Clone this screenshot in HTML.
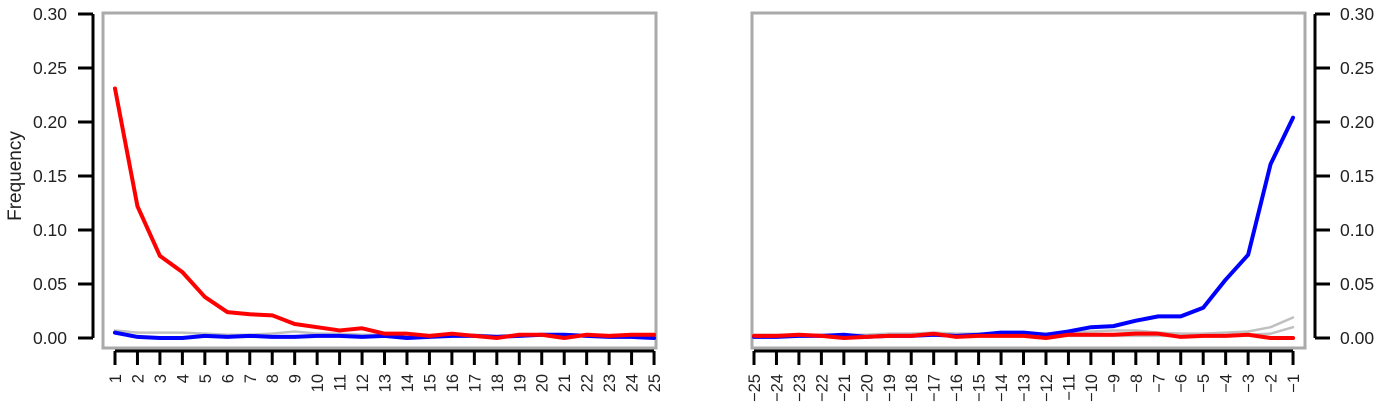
<!DOCTYPE html>
<html><head><meta charset="utf-8"><style>
body{margin:0;background:#fff;}
svg{display:block;font-family:"Liberation Sans",Arial,sans-serif;}
</style></head><body>
<svg id="c" width="1395" height="413"></svg>
<script>
const leftCats=[1,2,3,4,5,6,7,8,9,10,11,12,13,14,15,16,17,18,19,20,21,22,23,24,25];
const rightCats=[-25,-24,-23,-22,-21,-20,-19,-18,-17,-16,-15,-14,-13,-12,-11,-10,-9,-8,-7,-6,-5,-4,-3,-2,-1];
const yTicks=[0,0.05,0.10,0.15,0.20,0.25,0.30];
const leftRed=[0.231,0.122,0.076,0.061,0.038,0.024,0.022,0.021,0.013,0.010,0.007,0.009,0.004,0.004,0.002,0.004,0.002,0.000,0.003,0.003,0.000,0.003,0.002,0.003,0.003];
const leftBlue=[0.005,0.001,0.000,0.000,0.002,0.001,0.002,0.001,0.001,0.002,0.002,0.001,0.002,0.000,0.001,0.002,0.002,0.001,0.002,0.003,0.003,0.002,0.001,0.001,0.000];
const leftGray=[0.007,0.005,0.005,0.005,0.004,0.003,0.003,0.004,0.006,0.004,0.004,0.003,0.003,0.003,0.002,0.003,0.003,0.002,0.003,0.002,0.003,0.002,0.002,0.002,0.003];
const rightRed=[0.002,0.002,0.003,0.002,0.000,0.001,0.002,0.002,0.004,0.001,0.002,0.002,0.002,0.000,0.003,0.003,0.003,0.004,0.004,0.001,0.002,0.002,0.003,0.000,0.000];
const rightBlue=[0.001,0.001,0.002,0.002,0.003,0.001,0.002,0.002,0.003,0.002,0.003,0.005,0.005,0.003,0.006,0.010,0.011,0.016,0.020,0.020,0.028,0.054,0.077,0.161,0.204];
const rightGray=[0.003,0.003,0.003,0.003,0.003,0.003,0.004,0.004,0.005,0.004,0.004,0.004,0.004,0.004,0.005,0.006,0.007,0.007,0.005,0.004,0.004,0.005,0.006,0.010,0.019];
const rightGray2=[0.002,0.002,0.002,0.002,0.002,0.002,0.002,0.002,0.003,0.002,0.002,0.002,0.002,0.002,0.002,0.002,0.002,0.002,0.002,0.002,0.002,0.002,0.003,0.004,0.010];

const svg=document.getElementById('c');
const NS='http://www.w3.org/2000/svg';
function mk(tag,attrs,parent){const e=document.createElementNS(NS,tag);for(const k in attrs)e.setAttribute(k,attrs[k]);(parent||svg).appendChild(e);return e;}
const y=v=>338-v*1080;

function panel(cats,series,x0,side,name){
  const g=mk('g',{});
  
  
  const x=i=>x0+i*22.46;
  const bx0=side==='left'?103:752, bx1=side==='left'?656:1305;
  const box=mk('rect',{x:bx0,y:13,width:bx1-bx0,height:335,fill:'none',stroke:'#aaa','stroke-width':3},g);
  
  
  const ax=side==='left'?93:1315, dir=side==='left'?-1:1;
  const ya=mk('g',{},g);
  
  
  mk('line',{x1:ax,x2:ax,y1:y(0),y2:y(0.30),stroke:'#000','stroke-width':3},ya);
  yTicks.forEach(t=>{
    mk('line',{x1:ax,x2:ax+dir*15,y1:y(t),y2:y(t),stroke:'#000','stroke-width':3},ya);
    const tx=mk('text',{x:side==='left'?67:1340,y:y(t)+6,'font-size':17.5,fill:'#222','text-anchor':side==='left'?'end':'start'},ya);
    tx.textContent=t.toFixed(2);
    
    
  });
  const xa=mk('g',{},g);
  
  
  mk('line',{x1:x(0),x2:x(cats.length-1),y1:351,y2:351,stroke:'#000','stroke-width':3},xa);
  cats.forEach((c,i)=>{
    mk('line',{x1:x(i),x2:x(i),y1:351,y2:365,stroke:'#000','stroke-width':3},xa);
    const tx=mk('text',{x:0,y:0,'font-size':16.5,fill:'#222','text-anchor':'end',transform:`translate(${x(i)+6},374) rotate(-90)`},xa);
    tx.textContent=String(c).replace('-','\u2212');
    
    
  });
  series.forEach(s=>{
    const p=mk('polyline',{points:s.v.map((v,i)=>x(i)+','+y(v)).join(' '),fill:'none',stroke:s.c,'stroke-width':s.w,'stroke-linejoin':'round','stroke-linecap':'round'},g);
    
    
  });
}
panel(leftCats,[{v:leftGray,c:'#c0c0c0',w:2.5,n:'gray-series'},{v:leftBlue,c:'#0000ff',w:4,n:'blue-series'},{v:leftRed,c:'#ff0000',w:4,n:'red-series'}],115,'left','left-panel');
panel(rightCats,[{v:rightGray,c:'#c0c0c0',w:2.5,n:'gray-series'},{v:rightGray2,c:'#c0c0c0',w:2.5,n:'gray-series-2'},{v:rightBlue,c:'#0000ff',w:4,n:'blue-series'},{v:rightRed,c:'#ff0000',w:4,n:'red-series'}],754,'right','right-panel');
const yl=mk('text',{x:0,y:0,'font-size':19,fill:'#222','text-anchor':'middle',transform:'translate(21,176) rotate(-90)'});
yl.textContent='Frequency';


</script>
</body></html>
